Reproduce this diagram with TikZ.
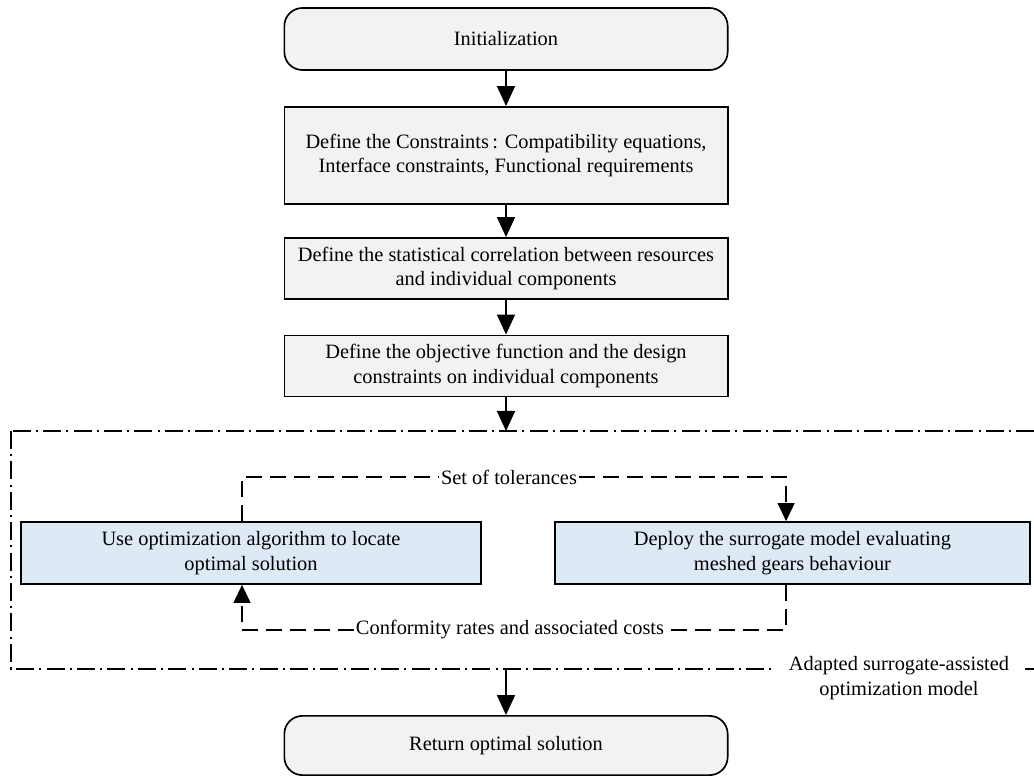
\documentclass[tikz,border=0pt]{standalone}
\usepackage{fontspec}
\setmainfont{Liberation Serif}
\usepackage{tikz}
\usetikzlibrary{arrows.meta, positioning}
\definecolor{boxgray}{HTML}{F2F2F2}
\definecolor{boxblue}{HTML}{DDE9F5}

\begin{document}
\begin{tikzpicture}[x=0.025cm, y=-0.025cm,
  font=\fontsize{14.5}{17.5}\selectfont,
  stepbox/.style={draw, line width=1.2pt, fill=boxgray, align=center,
    minimum width=11.08cm, inner sep=2pt},
  endbox/.style={stepbox, rounded corners=0.45cm},
  optbox/.style={draw, line width=1.2pt, fill=boxblue, align=center,
    minimum height=1.55cm, inner sep=2pt},
  flow/.style={line width=1.2pt, -{Triangle[length=0.5cm, width=0.45cm]}},
  loopline/.style={line width=1.2pt, dash pattern=on 0.4cm off 0.2cm},
  looptip/.style={-{Triangle[length=0.45cm, width=0.42cm]}},
  frameline/.style={line width=1pt, dash pattern=on 0.45cm off 0.13cm on 0.05cm off 0.13cm}]
  \clip (0,0) rectangle (1034,776);

  % main column
  \node[endbox, minimum height=1.55cm] (init) at (506,39) {Initialization};
  \node[stepbox, minimum height=2.43cm] (cons) at (506,155.5)
    {Define the Constraints\,: Compatibility equations,\\ Interface constraints, Functional requirements};
  \node[stepbox, minimum height=1.53cm] (corr) at (506,268.5)
    {Define the statistical correlation between resources\\ and individual components};
  \node[stepbox, minimum height=1.53cm] (obj) at (506,366)
    {Define the objective function and the design\\ constraints on individual components};
  \node[endbox, minimum height=1.48cm] (ret) at (506,745.5) {Return optimal solution};

  % surrogate-assisted model frame
  \draw[frameline] (11,431) rectangle (1060,669);
  \coordinate (ftop) at (506,431);
  \coordinate (fbot) at (506,669);
  \node[fill=white, align=center, inner ysep=2pt, inner xsep=0.4cm] (modlbl) at (899,678)
    {Adapted surrogate-assisted\\ optimization model};

  \node[optbox, minimum width=11.5cm] (opt) at (251,553)
    {Use optimization algorithm to locate\\ optimal solution};
  \node[optbox, minimum width=11.88cm] (sur) at (792.5,553)
    {Deploy the surrogate model evaluating\\ meshed gears behaviour};
  \node[inner sep=1pt] (tol) at (509,477) {Set of tolerances};
  \node[inner sep=1pt] (conf) at (510,630) {Conformity rates and associated costs};

  \draw[flow] (init) -- (cons);
  \draw[flow] (cons) -- (corr);
  \draw[flow] (corr) -- (obj);
  \draw[flow] (obj) -- (ftop);
  \draw[flow] (fbot) -- (ret);

  \draw[loopline] ([xshift=-0.225cm]opt.north) |- (tol.west);
  \draw[loopline, looptip] (tol.east) -| ([xshift=-0.16cm]sur.north);
  \draw[loopline] ([xshift=-0.16cm]sur.south) |- (conf.east);
  \draw[loopline, looptip] (conf.west) -| ([xshift=-0.225cm]opt.south);
\end{tikzpicture}
\end{document}
